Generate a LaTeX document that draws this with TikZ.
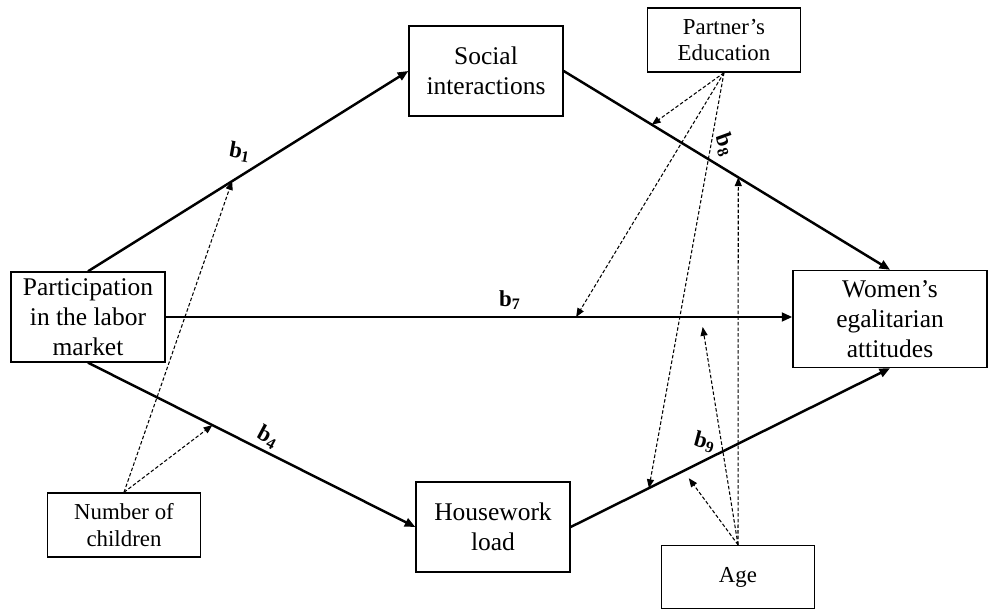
\documentclass[tikz,border=0pt]{standalone}
\usepackage{fontspec}
\setmainfont{Liberation Serif}
\usetikzlibrary{calc,arrows.meta}

\tikzset{
  bigbox/.style={draw, line width=0.8pt, minimum width=3.08cm, minimum height=1.8cm, align=center, font=\fontsize{14.5}{17}\selectfont},
  smallbox/.style={draw, line width=0.8pt, minimum width=3.06cm, minimum height=1.28cm, align=center, font=\fontsize{13}{15}\selectfont},
  path/.style={line width=1.4pt, -{Triangle[length=6pt,width=5pt]}},
  mod/.style={line width=0.6pt, dash pattern=on 2pt off 1.2pt, -{Triangle[length=5pt,width=4pt]}},
  coef/.style={font=\fontsize{13}{15}\selectfont\bfseries}
}

\begin{document}
\begin{tikzpicture}
  \useasboundingbox (0,0) rectangle (19.78,-12.22);
  \node[bigbox] (P) at (1.76,-6.34) {Participation\\in the labor\\market};
  \node[bigbox] (S) at (9.72,-1.42) {Social\\interactions};
  \node[bigbox] (H) at (9.86,-10.54) {Housework\\load};
  \node[bigbox, minimum width=3.88cm, minimum height=1.94cm] (W) at (17.8,-6.38) {Women’s\\egalitarian\\attitudes};
  \node[smallbox] (E) at (14.48,-0.8) {Partner’s\\Education};
  \node[smallbox] (N) at (2.48,-10.5) {Number of\\children};
  \node[smallbox, minimum height=1.26cm] (A) at (14.76,-11.54) {Age};
  % main paths
  \draw[path] (P.north) -- (S.west);
  \draw[path] (P.east) -- (P.east -| W.west);
  \draw[path] (P.south) -- (H.west);
  \draw[path] (S.east) -- (W.north);
  \draw[path] (H.east) -- (W.south);
  % points on the paths
  \coordinate (n1) at ($(P.north)!0.45!(S.west)$);
  \coordinate (n4) at ($(P.south)!0.38!(H.west)$);
  \coordinate (e8) at ($(S.east)!0.27!(W.north)$);
  \coordinate (e7) at ($(P.east)!0.655!(P.east -| W.west)$);
  \coordinate (e9) at ($(H.east)!0.245!(W.south)$);
  \coordinate (a8) at ($(S.east)!0.535!(W.north)$);
  \coordinate (a7) at ($(P.east)!0.857!(P.east -| W.west)+(0,-0.2)$);
  \coordinate (a9) at ($(H.east)!0.37!(W.south)+(0,-0.2)$);
  % moderators
  \draw[mod] (N.north) -- (n1); \draw[mod] (N.north) -- (n4);
  \draw[mod] (E.south) -- (e8); \draw[mod] (E.south) -- (e7); \draw[mod] (E.south) -- (e9);
  \draw[mod] (A.north) -- (a8); \draw[mod] (A.north) -- (a7); \draw[mod] (A.north) -- (a9);
  % labels
  \node[coef, rotate=-10] (b1) at (4.8,-3.04) {b\textsubscript{1}};
  \node[coef, rotate=-28] (b4) at (5.36,-8.74) {b\textsubscript{4}};
  \node[coef] (b7) at (10.2,-6.0) {b\textsubscript{7}};
  \node[coef, rotate=-70] (b8) at (14.5,-2.9) {b\textsubscript{8}};
  \node[coef, rotate=-15] (b9) at (14.1,-8.84) {b\textsubscript{9}};
\end{tikzpicture}
\end{document}
